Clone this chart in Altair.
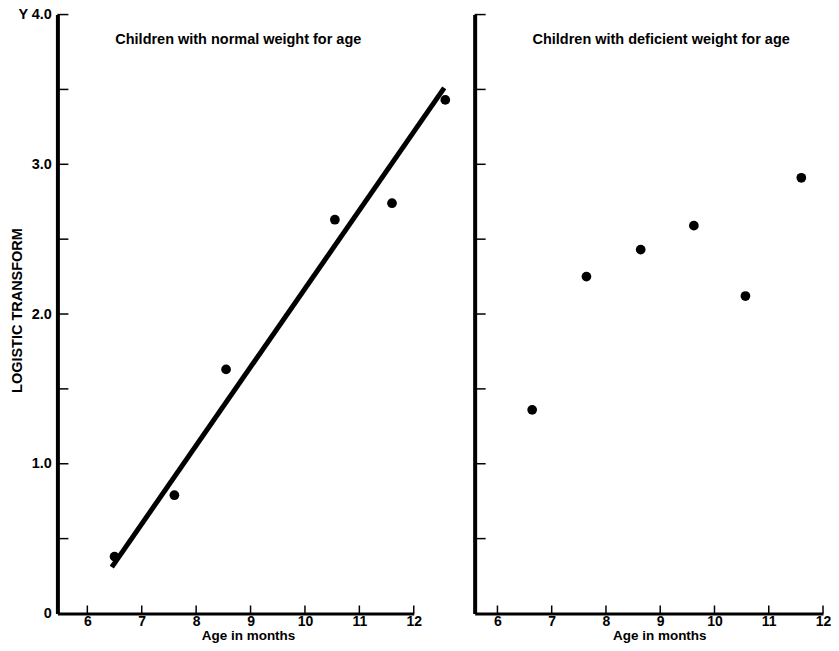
import altair as alt
import pandas as pd

# ---- data ----
normal_age = [6.5, 7.6, 8.55, 10.55, 11.6, 12.58]
normal_logit = [0.38, 0.79, 1.63, 2.63, 2.74, 3.43]
fit_age = [6.45, 12.56]
fit_logit = [0.31, 3.51]
deficient_age = [6.64, 7.64, 8.64, 9.62, 10.57, 11.6]
deficient_logit = [1.36, 2.25, 2.43, 2.59, 2.12, 2.91]
x_ticks = [6, 7, 8, 9, 10, 11, 12]
y_ticks = [0.5, 1.0, 1.5, 2.0, 2.5, 3.0, 3.5, 4.0]
y_label_values = [0, 1.0, 2.0, 3.0, 4.0]
panel_titles = ["Children with normal weight for age",
                "Children with deficient weight for age"]
x_title = "Age in months"
y_title = "LOGISTIC TRANSFORM"

FONT = "Liberation Sans"
FS = 14.5
H = 600
W_LEFT = 357
W_RIGHT = 349

df_normal = pd.DataFrame({"age": normal_age, "logit": normal_logit})
df_fit = pd.DataFrame({"age": fit_age, "logit": fit_logit})
df_def = pd.DataFrame({"age": deficient_age, "logit": deficient_logit})
df_xt = pd.DataFrame({"age": x_ticks})
df_yt = pd.DataFrame({"logit": y_ticks})

yscale = alt.Scale(domain=[0, 4], nice=False, zero=False)


def x_axis(title_x):
    return alt.Axis(values=x_ticks, ticks=False, grid=False, labelFlush=False,
                    domainWidth=3, domainColor="black",
                    labelFont=FONT, labelFontWeight="bold", labelFontSize=14,
                    labelColor="black", labelPadding=1,
                    title=x_title, titleFont=FONT, titleFontWeight="bold",
                    titleFontSize=13.5, titleColor="black", titlePadding=0,
                    titleX=title_x)


left_y_axis = alt.Axis(values=y_label_values, ticks=False, grid=False,
                       labelFlush=False,
                       domainWidth=4, domainColor="black",
                       labelFont=FONT, labelFontWeight="bold", labelFontSize=FS,
                       labelColor="black", labelPadding=6,
                       labelExpr="datum.value == 4 ? 'Y  4.0' : (datum.value == 0 ? '0' : format(datum.value, '.1f'))",
                       title=y_title, titleFont=FONT, titleFontWeight="bold",
                       titleFontSize=14.5, titleColor="black",
                       titleX=-33, titleY=296)

right_y_axis = alt.Axis(values=y_ticks, ticks=False, grid=False, labels=False,
                        domainWidth=4, domainColor="black", title=None)


def panel(df_pts, xdom, width, xax, yax, title, with_fit):
    xscale = alt.Scale(domain=xdom, nice=False, zero=False)
    X = alt.X("age:Q", scale=xscale, axis=xax)
    Y = alt.Y("logit:Q", scale=yscale, axis=yax)
    pts = alt.Chart(df_pts).mark_circle(size=95, color="black", opacity=1).encode(
        x=X, y=Y)
    yt = alt.Chart(df_yt).mark_rule(color="black", strokeWidth=1.5).encode(
        y=Y, x=alt.value(0), x2=alt.value(11))
    xt = alt.Chart(df_xt).mark_rule(color="black", strokeWidth=1.5).encode(
        x=X, y=alt.value(H), y2=alt.value(H - 8))
    ttl = alt.Chart(pd.DataFrame({"t": [title]})).mark_text(
        align="left", baseline="middle", font=FONT, fontWeight="bold",
        fontSize=FS, color="black").encode(
        text="t:N", x=alt.value(58), y=alt.value(25))
    layers = [pts, yt, xt]
    if with_fit:
        fit = alt.Chart(df_fit).mark_line(color="black", strokeWidth=5,
                                          strokeCap="butt").encode(x=X, y=Y)
        layers.append(fit)
    layers.append(ttl)
    return alt.layer(*layers).properties(width=width, height=H)


left = panel(df_normal, [5.45, 12.0], W_LEFT, x_axis(191), left_y_axis,
             panel_titles[0], True)
right = panel(df_def, [5.58, 12.0], W_RIGHT, x_axis(185), right_y_axis,
              panel_titles[1], False)

chart = alt.hconcat(left, right, spacing=61, bounds="flush").properties(
    padding={"left": 1.5, "top": -2, "right": 0, "bottom": 0}
).configure(background="white").configure_view(stroke=None)

chart.save("out.html", embed_options={"renderer": "svg", "actions": False})
